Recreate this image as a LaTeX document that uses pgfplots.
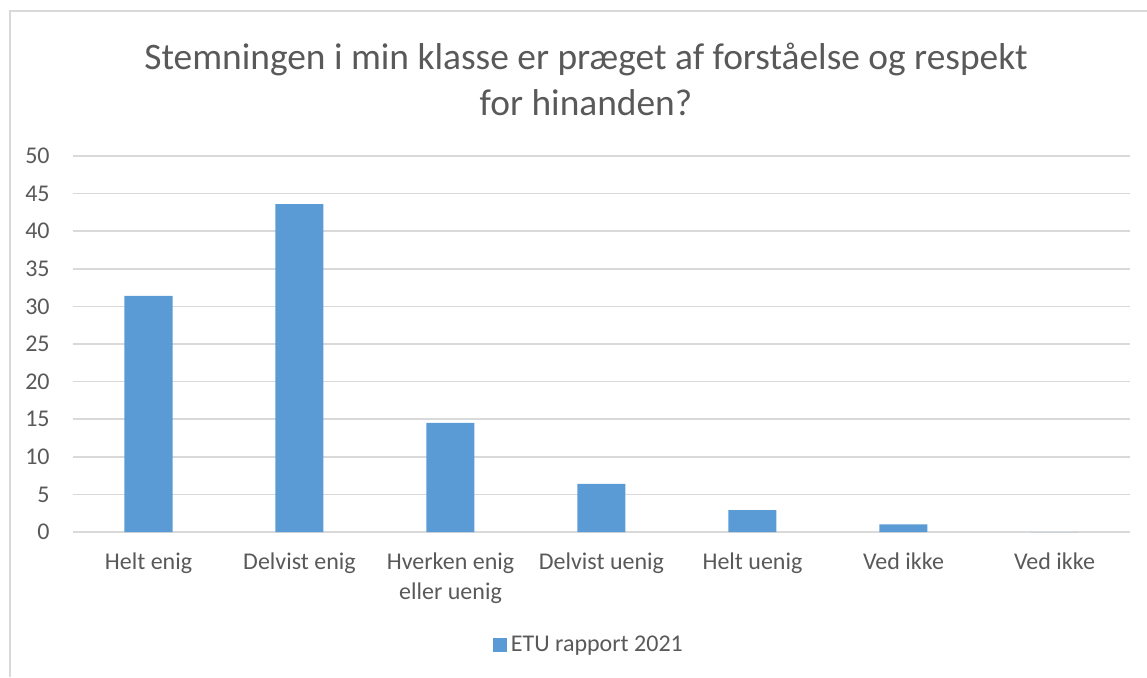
\documentclass[border=0pt]{standalone}
\usepackage{fontspec}
\setmainfont{Carlito}
\usepackage{pgfplots}
\pgfplotsset{compat=1.18}
\definecolor{barblue}{HTML}{5B9BD5}
\definecolor{gridgrey}{HTML}{D9D9D9}
\definecolor{txtgrey}{HTML}{595959}
\begin{document}
\begin{tikzpicture}
\useasboundingbox (0,0) rectangle (573.5pt,338.5pt);
\draw[gridgrey, line width=0.75pt] (5pt,0) -- (5pt,333pt) -- (573.5pt,333pt);
\node[anchor=base, text=txtgrey, font=\fontsize{18.7}{22}\selectfont] at (293pt,304pt) {Stemningen i min klasse er præget af forståelse og respekt};
\node[anchor=base, text=txtgrey, font=\fontsize{18.7}{22}\selectfont] at (293pt,281pt) {for hinanden?};
\begin{axis}[
  at={(36.5pt,72.5pt)}, anchor=south west,
  scale only axis, width=528.5pt, height=188pt,
  xmin=-0.5, xmax=6.5, ymin=0, ymax=50,
  ytick={0,5,...,50},
  xtick={0,...,6},
  xticklabels={Helt enig, Delvist enig, {Hverken enig\\eller uenig}, Delvist uenig, Helt uenig, Ved ikke, Ved ikke},
  xticklabel style={align=center, font=\fontsize{12}{15}\selectfont, text=txtgrey, anchor=north, inner sep=0pt},
  xticklabel shift=10pt,
  yticklabel style={font=\fontsize{12}{13}\selectfont, text=txtgrey, anchor=east, inner sep=0pt},
  yticklabel shift=11.5pt,
  /pgf/number format/assume math mode=true,
  axis line style={draw=none},
  major tick length=0pt,
  ymajorgrids, grid style={gridgrey, line width=0.75pt},
  ybar, bar width=24pt,
  legend style={at={(0.489,-0.30)}, anchor=center, draw=none, fill=none, font=\fontsize{12}{13}\selectfont, text=txtgrey},
  legend image code/.code={\fill[barblue] (0pt,-3.5pt) rectangle (7pt,3.5pt);},
]
\addplot[fill=barblue, draw=none] coordinates {(0,31.4) (1,43.6) (2,14.5) (3,6.4) (4,2.9) (5,1.0) (6,0)};
\addlegendentry{ETU rapport 2021}
\end{axis}
\end{tikzpicture}
\end{document}
